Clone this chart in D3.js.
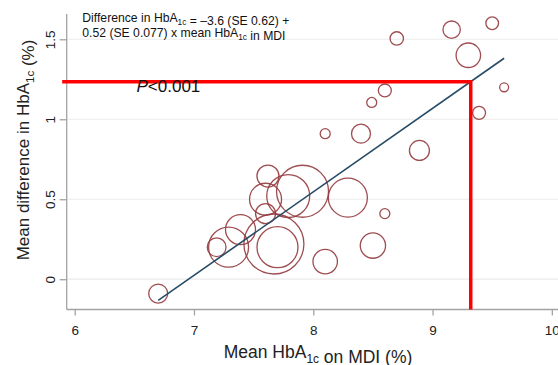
<!DOCTYPE html>
<html><head><meta charset="utf-8">
<script src="https://cdn.jsdelivr.net/npm/d3@7"></script>
<style>
html,body{margin:0;padding:0;background:#fff;}
svg{display:block;font-family:"Liberation Sans",Arial,sans-serif;}
</style></head>
<body>
<script>
// ---- data ----
const mdiMean  = [6.70, 7.19, 7.29, 7.39, 7.67, 7.70, 7.60, 7.60, 7.62, 7.79, 7.91, 8.29, 8.60, 8.50, 8.10, 8.40, 8.10, 8.49, 8.60, 8.89, 9.39, 9.60, 9.16, 9.50, 9.30, 8.70];
const meanDiff = [-0.09, 0.20, 0.20, 0.31, 0.22, 0.20, 0.41, 0.50, 0.645, 0.52, 0.55, 0.51, 0.41, 0.21, 0.11, 0.91, 0.91, 1.105, 1.18, 0.805, 1.04, 1.20, 1.56, 1.60, 1.40, 1.505];
const weights  = [90, 88, 400, 225, 900, 420, 100, 256, 121, 462, 676, 380, 25, 160, 150, 90, 25, 25, 42, 100, 42, 20, 75, 40, 150, 45];
const xTicks = [6, 7, 8, 9, 10];
const yTicks = [0, 0.5, 1, 1.5];
const fitIntercept = -3.63, fitSlope = 0.522;
const fitRange = [6.70, 9.60];
const markX = 9.32, markY = 1.235, markStartX = 5.895;

const W = 558, H = 365;
const svg = d3.select("body").append("svg").attr("width", W).attr("height", H);

const x = d3.scaleLinear().domain([5.933, 10.06]).range([66.7, 559]);
const y = d3.scaleLinear().domain([-0.1894, 1.658]).range([309.5, 14]);
const r = d3.scaleSqrt().domain([0, 900]).range([0, 30]);

// gridlines
svg.append("g").selectAll("line").data(yTicks).join("line")
  .attr("x1", x.range()[0]).attr("x2", W)
  .attr("y1", d => y(d)).attr("y2", d => y(d))
  .attr("stroke", "#ebebeb").attr("stroke-width", 1.2);

// axes
const axCol = "#a3a3a3";
const gx = svg.append("g").attr("transform", `translate(0,${y.range()[0]})`)
  .call(d3.axisBottom(x).tickValues(xTicks).tickSize(6).tickPadding(10).tickFormat(d3.format("d")));
gx.select(".domain").attr("stroke", axCol).attr("stroke-width", 1.3).attr("d", `M${x.range()[0]},0H${W}`);
gx.selectAll(".tick line").attr("stroke", axCol).attr("stroke-width", 1.3);
gx.selectAll(".tick text").attr("font-size", 13.5).attr("fill", "#222").attr("font-family", "Liberation Sans, Arial, sans-serif");

const gy = svg.append("g").attr("transform", `translate(${x.range()[0]},0)`)
  .call(d3.axisLeft(y).tickValues(yTicks).tickSize(7).tickFormat(d => d3.format("")(d)));
gy.select(".domain").attr("stroke", axCol).attr("stroke-width", 1.3).attr("d", `M0,${y.range()[1]}V${y.range()[0]}`);
gy.selectAll(".tick line").attr("stroke", axCol).attr("stroke-width", 1.3);
gy.selectAll(".tick text").attr("font-size", 13.5).attr("fill", "#222")
  .attr("font-family", "Liberation Sans, Arial, sans-serif")
  .attr("x", null).attr("dy", null)
  .attr("transform", "translate(-16,0) rotate(-90)")
  .attr("text-anchor", "middle").attr("dominant-baseline", "central");

// bubbles
const pts = mdiMean.map((v, i) => ({x: v, y: meanDiff[i], w: weights[i]}));
svg.append("g").selectAll("circle").data(pts).join("circle")
  .attr("cx", d => x(d.x)).attr("cy", d => y(d.y)).attr("r", d => r(d.w))
  .attr("fill", "none").attr("stroke", "#933a3e").attr("stroke-width", 1.3).attr("stroke-opacity", 0.9);

// fit line
const fitPts = fitRange.map(v => [v, fitIntercept + fitSlope * v]);
svg.append("path").attr("d", d3.line().x(d => x(d[0])).y(d => y(d[1]))(fitPts))
  .attr("stroke", "#284b66").attr("stroke-width", 1.6).attr("fill", "none");

// red marker lines
svg.append("path")
  .attr("d", `M${x(markStartX)},${y(markY)}H${x(markX)}V${y.range()[0]}`)
  .attr("stroke", "#ff0000").attr("stroke-width", 3.5).attr("fill", "none");

// P text
const pt = svg.append("text").attr("x", 136.5).attr("y", 92).attr("font-size", 17).attr("fill", "#111");
pt.append("tspan").attr("font-style", "italic").text("P");
pt.append("tspan").text("<0.001");

// annotation
function sub(t, base, s) {
  t.append("tspan").attr("font-size", s * 0.68).attr("dy", s * 0.28).text(base);
  t.append("tspan").attr("dy", -s * 0.28).text("");
}
const fs = 12.2;
const a1 = svg.append("text").attr("x", 82.3).attr("y", 22).attr("font-size", fs).attr("fill", "#111");
a1.append("tspan").text("Difference in HbA");
sub(a1, "1c", fs);
a1.append("tspan").text(" = \u20133.6 (SE 0.62) +");
const a2 = svg.append("text").attr("x", 82.3).attr("y", 37).attr("font-size", fs).attr("fill", "#111");
a2.append("tspan").text("0.52 (SE 0.077) x mean HbA");
sub(a2, "1c", fs);
a2.append("tspan").text(" in MDI");

// axis titles
const ts = 17.5;
const xt = svg.append("text").attr("x", 318).attr("y", 358).attr("text-anchor", "middle")
  .attr("font-size", ts).attr("fill", "#222");
xt.append("tspan").text("Mean HbA");
sub(xt, "1c", ts);
xt.append("tspan").text(" on MDI (%)");

const yt = svg.append("text").attr("transform", "translate(29,150) rotate(-90)").attr("text-anchor", "middle")
  .attr("font-size", 17).attr("fill", "#222");
yt.append("tspan").text("Mean difference in HbA");
sub(yt, "1c", 17);
yt.append("tspan").text(" (%)");
</script>
</body></html>
